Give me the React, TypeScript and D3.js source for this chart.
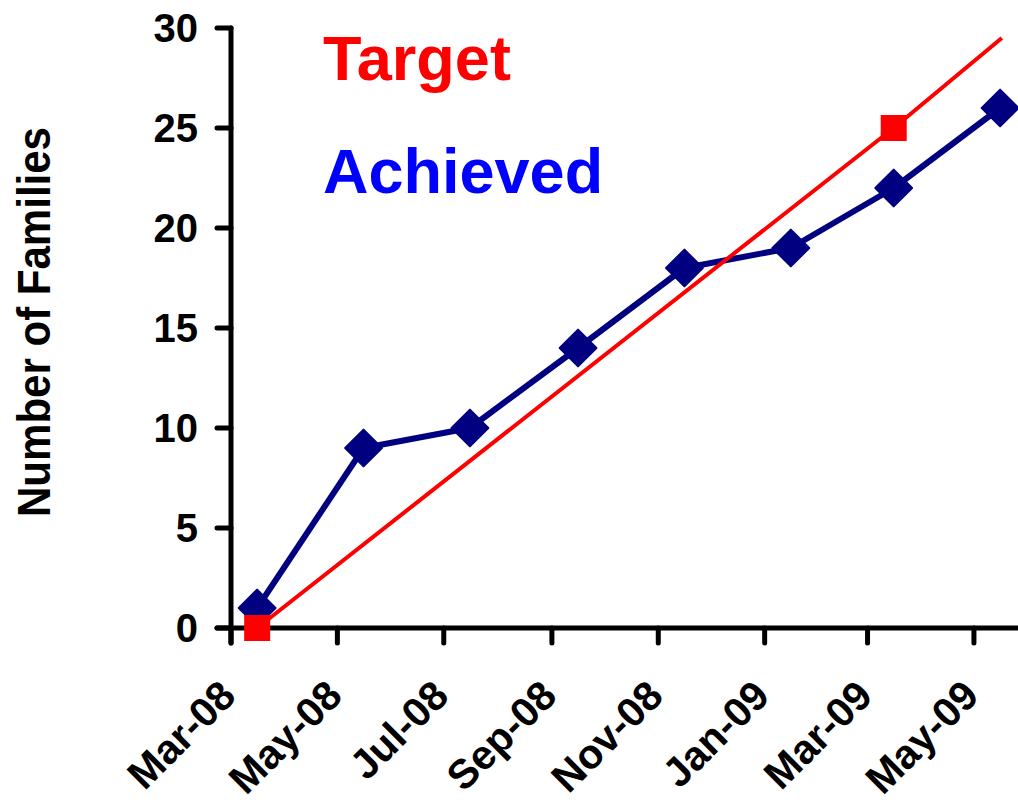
import React from "react";
import * as d3 from "d3";

const achievedDates: Date[] = [
  new Date(2008, 2, 16),
  new Date(2008, 4, 16),
  new Date(2008, 6, 16),
  new Date(2008, 8, 16),
  new Date(2008, 10, 16),
  new Date(2009, 0, 16),
  new Date(2009, 2, 16),
  new Date(2009, 4, 16),
];
const achievedValues: number[] = [1, 9, 10, 14, 18, 19, 22, 26];

const targetDates: Date[] = [new Date(2008, 2, 16), new Date(2009, 2, 16), new Date(2009, 4, 17)];
const targetValues: number[] = [0, 25, 29.5];
const targetMarked: boolean[] = [true, true, false];

const yTicks: number[] = [0, 5, 10, 15, 20, 25, 30];
const axisTitle = "Number of Families";
const legendLabels: string[] = ["Target", "Achieved"];

const W = 1018;
const H = 803;
const FONT = "'Liberation Sans', Arial, Helvetica, sans-serif";

export default function App() {
  const x = d3
    .scaleTime()
    .domain([new Date(2008, 2, 1), new Date(2009, 5, 1)])
    .range([231, 1028]);
  const y = d3.scaleLinear().domain([0, 30]).range([628, 28]);

  const xTicks = x.ticks(d3.timeMonth.every(2) as any).filter((d) => d <= new Date(2009, 4, 1));
  const fmt = d3.timeFormat("%b-%y");

  const achieved = achievedDates.map((d, i) => ({ d, v: achievedValues[i] }));
  const target = targetDates.map((d, i) => ({ d, v: targetValues[i], m: targetMarked[i] }));

  const line = d3
    .line<{ d: Date; v: number }>()
    .x((p) => x(p.d))
    .y((p) => y(p.v));

  const diamond = d3.symbol().type(d3.symbolSquare).size(26 * 26)();
  const square = d3.symbol().type(d3.symbolSquare).size(26 * 26)();

  return (
    <svg
      width={W}
      height={H}
      style={{ position: "absolute", left: 0, top: 0, background: "#fff" }}
      fontFamily={FONT}
      fontWeight="bold"
    >
      <rect x={0} y={0} width={W} height={H} fill="#fff" />
      {/* Y axis */}
      <line x1={x.range()[0]} x2={x.range()[0]} y1={y(30)} y2={643} stroke="#000" strokeWidth={5} strokeLinecap="round" />
      {yTicks.map((t) => (
        <g key={"yt" + t}>
          <line x1={217} x2={231} y1={y(t)} y2={y(t)} stroke="#000" strokeWidth={5} strokeLinecap="round" />
          <text x={198} y={y(t)} dy="0.36em" textAnchor="end" fontSize={40} fill="#000">
            {t}
          </text>
        </g>
      ))}
      {/* X axis */}
      <line x1={217} x2={W + 10} y1={y(0)} y2={y(0)} stroke="#000" strokeWidth={5} strokeLinecap="round" />
      {xTicks.map((t, i) => (
        <g key={"xt" + i}>
          <line x1={x(t)} x2={x(t)} y1={628} y2={643} stroke="#000" strokeWidth={5} strokeLinecap="round" />
          <text
            transform={`translate(${x(t) + 7},${698}) rotate(-45)`}
            textAnchor="end"
            fontSize={41}
            fill="#000"
          >
            {fmt(t)}
          </text>
        </g>
      ))}
      {/* Axis title */}
      <text
        transform="translate(50,322) rotate(-90)"
        textAnchor="middle"
        fontSize={46}
        textLength={390}
        lengthAdjust="spacingAndGlyphs"
        fill="#000"
      >
        {axisTitle}
      </text>

      {/* Achieved series */}
      <path d={line(achieved) || ""} fill="none" stroke="#000080" strokeWidth={6} strokeLinejoin="round" />
      {achieved.map((p, i) => (
        <path
          key={"a" + i}
          d={diamond || ""}
          transform={`translate(${x(p.d)},${y(p.v)}) rotate(45)`}
          fill="#000080"
          stroke="#000080"
          strokeWidth={2}
          strokeLinejoin="round"
        />
      ))}

      {/* Target series */}
      <path d={line(target) || ""} fill="none" stroke="#ff0000" strokeWidth={4} />
      {target
        .filter((p) => p.m)
        .map((p, i) => (
          <path key={"t" + i} d={square || ""} transform={`translate(${x(p.d)},${y(p.v)})`} fill="#ff0000" />
        ))}

      {/* Legend labels */}
      <text x={323} y={80} fontSize={63} fill="#ff0000">
        {legendLabels[0]}
      </text>
      <text x={323} y={193} fontSize={63} fill="#0000ff">
        {legendLabels[1]}
      </text>
    </svg>
  );
}
